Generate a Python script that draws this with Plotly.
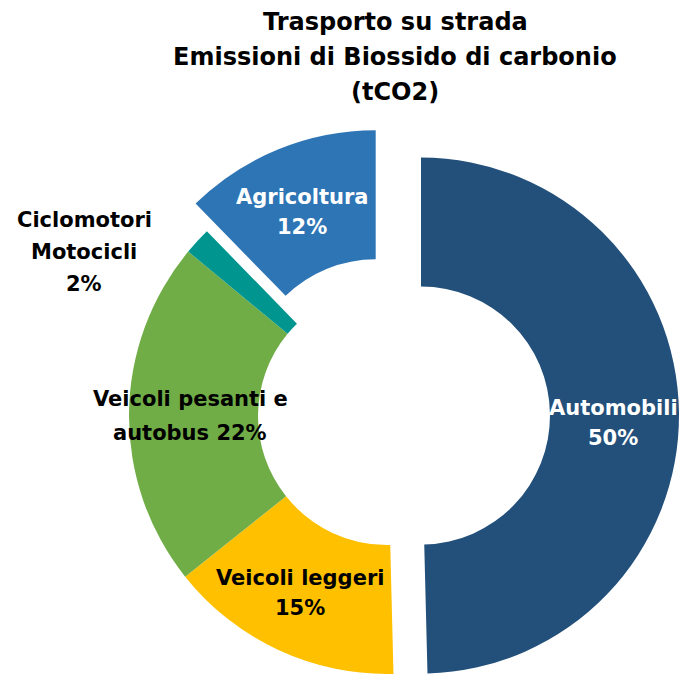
import math
import plotly.graph_objects as go

# Road transport CO2 emissions by vehicle category (share of total, %)
categories = ["Automobili", "Veicoli leggeri", "Veicoli pesanti e autobus",
              "Ciclomotori Motocicli", "Agricoltura"]
shares = [49.6, 14.7, 21.7, 1.7, 12.3]
colors = ["#22507A", "#FFC000", "#70AD47", "#00968F", "#2E75B6"]
label_lines = [["Automobili"], ["Veicoli leggeri"], ["Veicoli pesanti e", "autobus"],
               ["Ciclomotori", "Motocicli"], ["Agricoltura"]]
pct_inline = [False, False, True, False, False]
label_colors = ["white", "black", "black", "black", "white"]
title_lines = ["Trasporto su strada", "Emissioni di Biossido di carbonio", "(tCO2)"]

# exploded wedges: how far (px) each slice is pushed out from the centre
pull_px = [34, 0, 0, 0, 30]

W, H = 680, 675
CX, CY, R = 387, 416, 258
HOLE = 0.5
FONT = "DejaVu Sans"
TRANSPARENT = "rgba(0,0,0,0)"


def clamp(v):
    return min(1.0, max(0.0, v))


def domain_at(cx, cy):
    return dict(x=[clamp((cx - R) / W), clamp((cx + R) / W)],
                y=[clamp(1 - (cy + R) / H), clamp(1 - (cy - R) / H)])


total = sum(shares)
cum = 0.0
mid_angles = []
for v in shares:
    mid_angles.append((cum + v / 2) / total * 2 * math.pi)
    cum += v

fig = go.Figure()

# one ring per centre: the fixed slices share the main centre,
# every exploded slice gets its own shifted centre
groups = [[i for i, p in enumerate(pull_px) if p == 0]]
groups += [[i] for i, p in enumerate(pull_px) if p > 0]

for grp in groups:
    i0 = grp[0]
    dx = pull_px[i0] * math.sin(mid_angles[i0])
    dy = -pull_px[i0] * math.cos(mid_angles[i0])
    fig.add_trace(go.Pie(
        labels=categories,
        values=shares,
        sort=False,
        direction="clockwise",
        rotation=0,
        hole=HOLE,
        marker=dict(colors=[c if k in grp else TRANSPARENT for k, c in enumerate(colors)],
                    line=dict(width=0)),
        textinfo="none",
        hoverinfo="label+percent",
        showlegend=False,
        domain=domain_at(CX + dx, CY + dy),
    ))


def add_lines(lines, x, y0, gap, size, color):
    for k, line in enumerate(lines):
        fig.add_annotation(
            text=line, x=x / W, y=1 - (y0 + k * gap) / H,
            xref="paper", yref="paper", xanchor="center", yanchor="middle",
            showarrow=False,
            font=dict(family=FONT, size=size, color=color, weight="bold"),
        )


# title
add_lines(title_lines, 395, 22, 35, 24, "black")

# slice labels
label_pos = [(613, 408), (300, 578), (190, 399), (84, 220), (302, 197)]
label_gap = [30, 30, 34, 32, 30]
for i, v in enumerate(shares):
    pct = f"{round(v)}%"
    lines = list(label_lines[i])
    if pct_inline[i]:
        lines[-1] = f"{lines[-1]} {pct}"
    else:
        lines.append(pct)
    x, y = label_pos[i]
    add_lines(lines, x, y, label_gap[i], 21, label_colors[i])

fig.update_layout(
    width=W, height=H,
    margin=dict(l=0, r=0, t=0, b=0),
    paper_bgcolor="white",
    plot_bgcolor="white",
)

fig.write_html("out.html")
